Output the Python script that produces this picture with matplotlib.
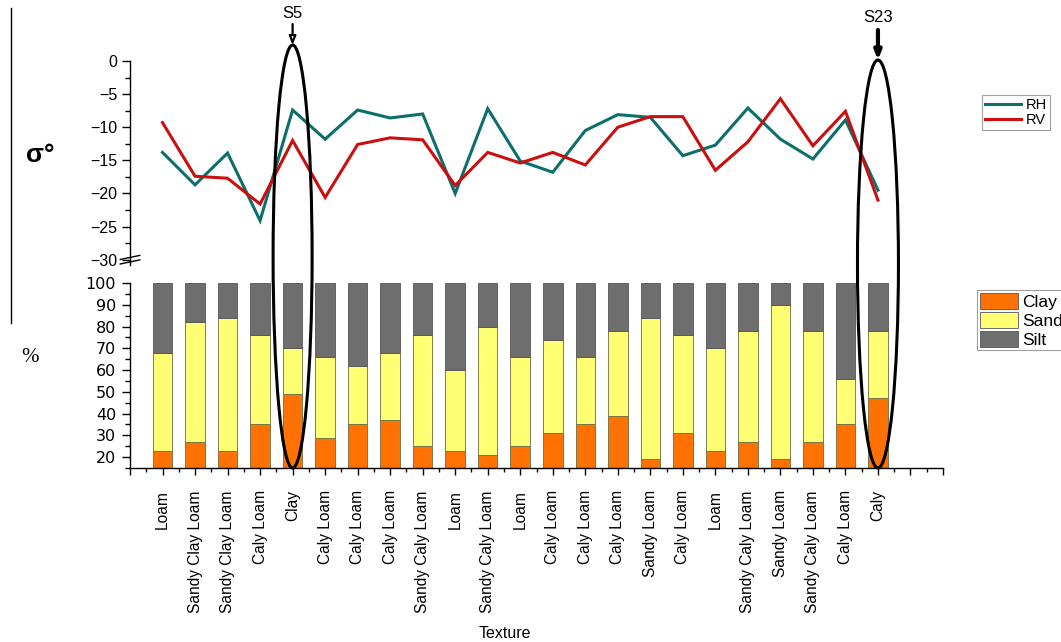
import matplotlib
matplotlib.use("Agg")
import matplotlib.pyplot as plt
import matplotlib.transforms as mtransforms
from matplotlib.patches import Ellipse, Patch
from matplotlib.lines import Line2D
from matplotlib.ticker import MultipleLocator, FixedLocator
import numpy as np

plt.rcParams['font.family'] = ['Liberation Sans', 'DejaVu Sans']

# ---- data ----
textures = ["Loam", "Sandy Clay Loam", "Sandy Clay Loam", "Caly Loam", "Clay",
            "Caly Loam", "Caly Loam", "Caly Loam", "Sandy Caly Loam", "Loam",
            "Sandy Caly Loam", "Loam", "Caly Loam", "Caly Loam", "Caly Loam",
            "Sandy Loam", "Caly Loam", "Loam", "Sandy Caly Loam", "Sandy Loam",
            "Sandy Caly Loam", "Caly Loam", "Caly"]

rh = [-13.8, -18.7, -13.9, -24.1, -7.4, -11.8, -7.4, -8.6, -8.0, -20.0,
      -7.2, -15.1, -16.8, -10.5, -8.1, -8.5, -14.3, -12.7, -7.1, -11.8,
      -14.8, -8.9, -19.5]
rv = [-9.3, -17.4, -17.7, -21.6, -12.0, -20.6, -12.6, -11.6, -11.9, -18.8,
      -13.8, -15.4, -13.8, -15.7, -10.0, -8.4, -8.4, -16.5, -12.2, -5.7,
      -12.8, -7.6, -21.0]

clay = [23, 27, 23, 35, 49, 29, 35, 37, 25, 23, 21, 25, 31, 35, 39, 19, 31,
        23, 27, 19, 27, 35, 47]
sand = [45, 55, 61, 41, 21, 37, 27, 31, 51, 37, 59, 41, 43, 31, 39, 65, 45,
        47, 51, 71, 51, 21, 31]
silt = [32, 18, 16, 24, 30, 34, 38, 32, 24, 40, 20, 34, 26, 34, 22, 16, 24,
        30, 22, 10, 22, 44, 22]

highlight = {"S5": 5, "S23": 23}

# ---- figure ----
W, H = 1061, 642
fig = plt.figure(figsize=(W / 100, H / 100), dpi=100)

left, right = 130 / W, 943 / W
ax_top = fig.add_axes([left, 1 - 265 / H, right - left, (265 - 61) / H])
ax_bar = fig.add_axes([left, 1 - 468 / H, right - left, (468 - 283) / H])

x = np.arange(1, len(textures) + 1)

# sigma-naught lines
teal = '#0c6f6b'
red = '#cc0e0e'
ax_top.plot(x, rh, color=teal, lw=2.2, label='RH', solid_joinstyle='miter')
ax_top.plot(x, rv, color=red, lw=2.2, label='RV', solid_joinstyle='miter')
ax_top.set_xlim(0, 25)
ax_top.set_ylim(-30.8, 0)
for s in ('top', 'right', 'bottom'):
    ax_top.spines[s].set_visible(False)
ax_top.spines['left'].set_linewidth(1.0)
ax_top.xaxis.set_visible(False)
ax_top.yaxis.set_major_locator(MultipleLocator(5))
ax_top.yaxis.set_minor_locator(MultipleLocator(2.5))
ax_top.tick_params(axis='y', which='major', length=6, width=1.0, labelsize=11.5, pad=3)
ax_top.tick_params(axis='y', which='minor', length=3.5, width=1.0)
ax_top.patch.set_alpha(0)

# axis break marks
for dy in (0.0, 0.022):
    ax_top.plot([-0.012, 0.012], [0.005 + dy, 0.025 + dy], transform=ax_top.transAxes,
                color='black', lw=1.0, clip_on=False)

leg1 = ax_top.legend(loc='upper left', bbox_to_anchor=(982 / W, 1 - 95 / H),
                     bbox_transform=fig.transFigure, frameon=True, fancybox=False,
                     fontsize=10.5, handlelength=2.5, handletextpad=0.3,
                     borderpad=0.2, labelspacing=0.05, borderaxespad=0)
leg1.get_frame().set_edgecolor('#888888')
leg1.get_frame().set_linewidth(0.8)

# soil fraction bars
c_clay, c_sand, c_silt = '#ff7100', '#ffff73', '#6e6e6e'
edge = '#6b6b40'
bw = 0.6
bottom_sand = np.array(clay)
bottom_silt = np.array(clay) + np.array(sand)
ax_bar.bar(x, clay, width=bw, color=c_clay, edgecolor=edge, linewidth=0.6)
ax_bar.bar(x, sand, width=bw, bottom=bottom_sand, color=c_sand, edgecolor=edge, linewidth=0.6)
ax_bar.bar(x, silt, width=bw, bottom=bottom_silt, color=c_silt, edgecolor='#555555', linewidth=0.6)
ax_bar.set_xlim(0, 25)
ax_bar.set_ylim(15, 100)
for s in ('top', 'right'):
    ax_bar.spines[s].set_visible(False)
ax_bar.spines['left'].set_linewidth(1.0)
ax_bar.spines['bottom'].set_linewidth(1.0)
ax_bar.yaxis.set_major_locator(FixedLocator(np.arange(20, 101, 10)))
ax_bar.yaxis.set_minor_locator(FixedLocator(np.arange(15, 100, 10)))
ax_bar.tick_params(axis='y', which='major', length=6, width=1.0, labelsize=11.5, pad=4)
ax_bar.tick_params(axis='y', which='minor', length=3.5, width=1.0)
for lab in ax_bar.get_yticklabels():
    lab.set_family('DejaVu Sans')
ax_bar.set_xticks(np.arange(0, 26))
ax_bar.set_xticklabels([''] + textures + ['', ''], rotation=90, fontsize=11.2,
                       va='top', ha='center')
ax_bar.xaxis.set_minor_locator(MultipleLocator(0.5))
ax_bar.tick_params(axis='x', which='major', length=5, width=1.0, pad=11)
ax_bar.tick_params(axis='x', which='minor', length=3, width=1.0)

leg2 = fig.legend(handles=[Patch(facecolor=c_clay, edgecolor='#555555', lw=0.6, label='Clay'),
                           Patch(facecolor=c_sand, edgecolor='#555555', lw=0.6, label='Sand'),
                           Patch(facecolor=c_silt, edgecolor='#555555', lw=0.6, label='Silt')],
                  loc='upper left', bbox_to_anchor=(977 / W, 1 - 290 / H),
                  frameon=True, fancybox=False, fontsize=12.5, handlelength=2.2,
                  handleheight=1.05, handletextpad=0.25, borderpad=0.15,
                  labelspacing=0.12, borderaxespad=0)
leg2.get_frame().set_edgecolor('#888888')
leg2.get_frame().set_linewidth(0.8)

# axis titles
fig.text(40 / W, 1 - 155 / H, 'σ°', fontsize=19, fontweight='bold', ha='center', va='center')
fig.text(30 / W, 1 - 358 / H, '%', fontsize=15, family='Liberation Serif', ha='center', va='center')
fig.text(505 / W, 1 - 633 / H, 'Texture', fontsize=11.5, ha='center', va='center')

# stray rule at the left margin
fig.add_artist(Line2D([11 / W, 11 / W], [1 - 8 / H, 1 - 323 / H], color='black', lw=1.0))

# highlighted samples
blend = mtransforms.blended_transform_factory(ax_bar.transData, fig.transFigure)
marks = [("S5", 1.2, 45, 14, 24, 1.6), ("S23", 1.26, 60, 18, 30, 3.0)]
for name, w, top_px, txt_px, arr_px, alw in marks:
    xi = highlight[name]
    yc = 1 - (top_px + 468) / 2 / H
    hh = (468 - top_px) / H
    ell = Ellipse((xi, yc), w, hh, transform=blend, fill=False,
                  edgecolor='black', lw=2.2, clip_on=False)
    fig.add_artist(ell)
    fig.text(xi, 1 - txt_px / H, name, transform=blend, ha='center', va='center', fontsize=12)
    ax_bar.annotate('', xy=(xi, 1 - top_px / H), xycoords=blend,
                    xytext=(xi, 1 - arr_px / H), textcoords=blend,
                    arrowprops=dict(arrowstyle='-|>,head_length=0.5,head_width=0.2',
                                    lw=alw, color='black', fc='white', shrinkA=0, shrinkB=0),
                    annotation_clip=False)

fig.savefig('out.png', dpi=100)
